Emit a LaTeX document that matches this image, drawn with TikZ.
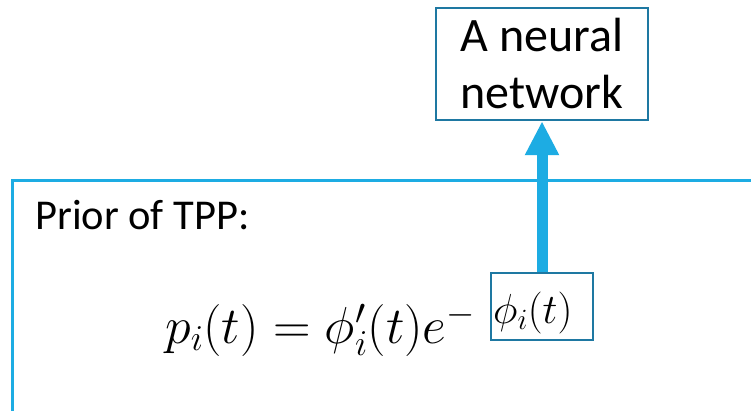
\RequirePackage{fix-cm}
\documentclass[tikz,border=0pt]{standalone}
\usepackage{fontspec}
\setmainfont{Carlito}
\usetikzlibrary{arrows.meta}
\definecolor{skyline}{RGB}{29,172,227}
\definecolor{tealframe}{RGB}{30,120,162}
\begin{document}
\begin{tikzpicture}[x=1pt,y=-1pt,
  boxed/.style={draw=tealframe,line width=2.5pt,inner sep=0pt,rectangle},
  flow/.style={draw=skyline,line width=11pt,-{Triangle[width=32pt,length=34pt]}}]
\useasboundingbox (0,0) rectangle (751,411);
\fill[white] (0,0) rectangle (751,411);
\clip (0,0) rectangle (751,411);
% outer frame, open on the right and bottom
\draw[skyline,line width=3pt] (770,181) -- (12,181) -- (12,430);
% labels and formula
\node[anchor=base west,font=\fontsize{42.5}{50}\selectfont,inner sep=0pt] (prior) at (35,230) {Prior of TPP:};
\node[anchor=base west,inner sep=0pt,font=\fontsize{52}{60}\selectfont] (formula) at (165,343)
  {$p_i(t) = \phi'_i(t)e^{-}$};
% exponent, set larger inside its own frame
\node[anchor=base west,inner sep=0pt,font=\fontsize{42}{50}\selectfont] (phiexp) at (493,323)
  {$\phi_i(t)$};
\node[boxed,minimum width=102pt,minimum height=67pt] (phibox) at (542,306.5) {};
\node[boxed,minimum width=212pt,minimum height=112pt,align=center,
  font=\fontsize{48}{57}\selectfont] (net) at (542,64) {A neural\\network};
\draw[flow] (phibox.north) -- (net.south);
\end{tikzpicture}
\end{document}
